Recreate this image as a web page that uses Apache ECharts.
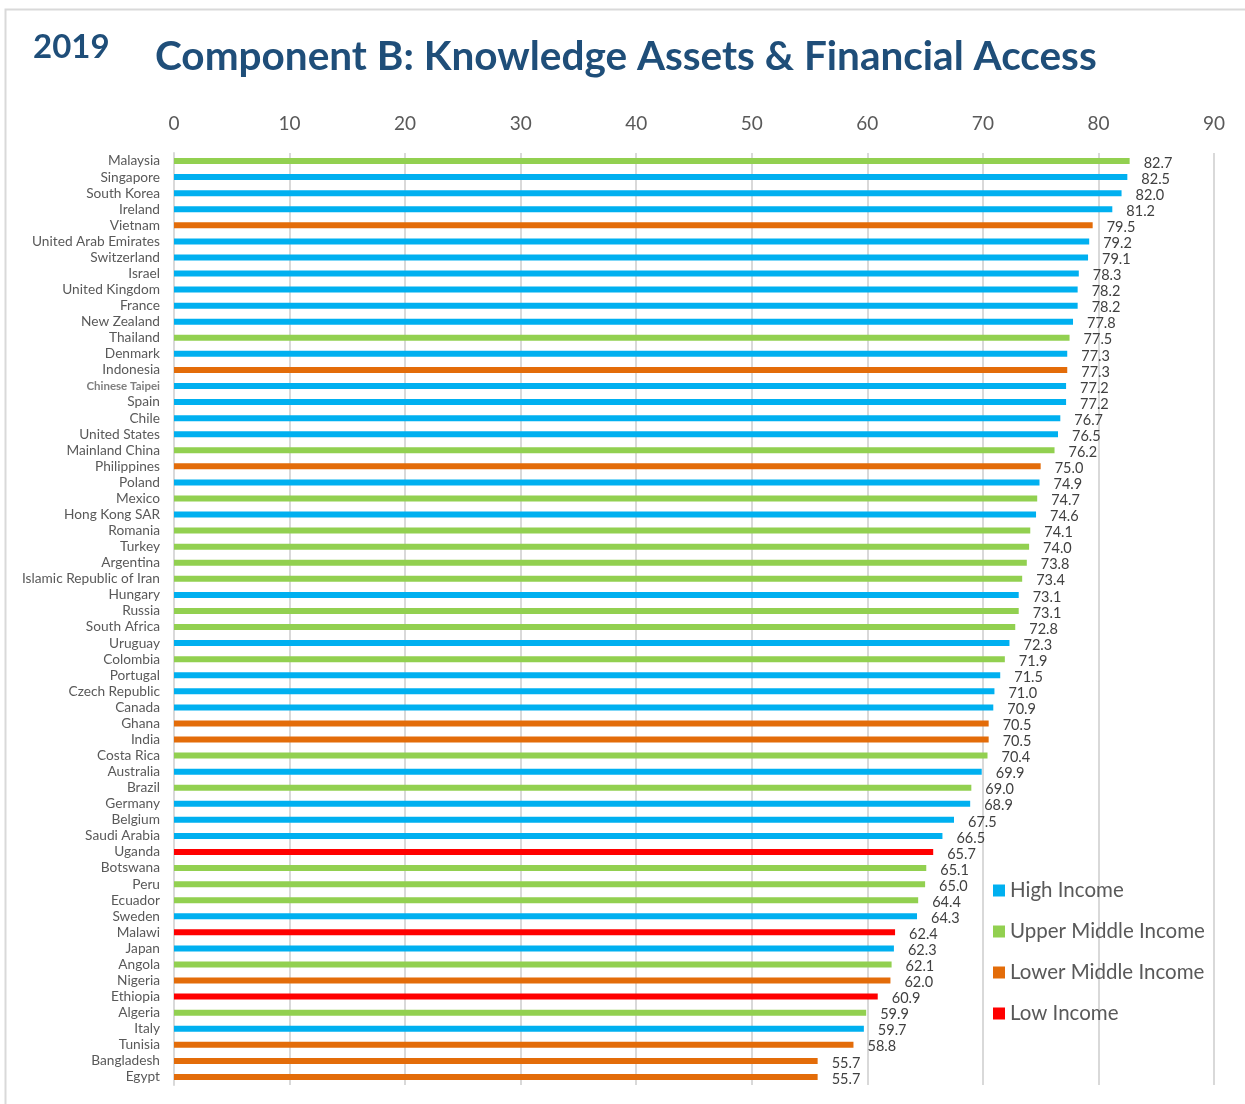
<!DOCTYPE html>
<html>
<head>
<meta charset="utf-8">
<title>Component B: Knowledge Assets & Financial Access</title>
<script src="https://cdn.jsdelivr.net/npm/echarts@6/dist/echarts.min.js"></script>
<style>
  html, body { margin: 0; padding: 0; background: #fff; }
  #chart { width: 1245px; height: 1104px; }
</style>
</head>
<body>
<div id="chart"></div>
<script>
// countries, top to bottom
const countries = [
  'Malaysia', 'Singapore', 'South Korea', 'Ireland', 'Vietnam', 'United Arab Emirates',
  'Switzerland', 'Israel', 'United Kingdom', 'France', 'New Zealand', 'Thailand',
  'Denmark', 'Indonesia', 'Chinese Taipei', 'Spain', 'Chile', 'United States',
  'Mainland China', 'Philippines', 'Poland', 'Mexico', 'Hong Kong SAR', 'Romania',
  'Turkey', 'Argentina', 'Islamic Republic of Iran', 'Hungary', 'Russia', 'South Africa',
  'Uruguay', 'Colombia', 'Portugal', 'Czech Republic', 'Canada', 'Ghana',
  'India', 'Costa Rica', 'Australia', 'Brazil', 'Germany', 'Belgium',
  'Saudi Arabia', 'Uganda', 'Botswana', 'Peru', 'Ecuador', 'Sweden',
  'Malawi', 'Japan', 'Angola', 'Nigeria', 'Ethiopia', 'Algeria',
  'Italy', 'Tunisia', 'Bangladesh', 'Egypt'
]

const scores = [
  82.7, 82.5, 82.0, 81.2, 79.5, 79.2,
  79.1, 78.3, 78.2, 78.2, 77.8, 77.5,
  77.3, 77.3, 77.2, 77.2, 76.7, 76.5,
  76.2, 75.0, 74.9, 74.7, 74.6, 74.1,
  74.0, 73.8, 73.4, 73.1, 73.1, 72.8,
  72.3, 71.9, 71.5, 71.0, 70.9, 70.5,
  70.5, 70.4, 69.9, 69.0, 68.9, 67.5,
  66.5, 65.7, 65.1, 65.0, 64.4, 64.3,
  62.4, 62.3, 62.1, 62.0, 60.9, 59.9,
  59.7, 58.8, 55.7, 55.7
]

// H = high, U = upper middle, LM = lower middle, L = low
const incomeGroup = [
  'U', 'H', 'H', 'H', 'LM', 'H',
  'H', 'H', 'H', 'H', 'H', 'U',
  'H', 'LM', 'H', 'H', 'H', 'H',
  'U', 'LM', 'H', 'U', 'H', 'U',
  'U', 'U', 'U', 'H', 'U', 'U',
  'H', 'U', 'H', 'H', 'H', 'LM',
  'LM', 'U', 'H', 'U', 'H', 'H',
  'H', 'L', 'U', 'U', 'U', 'H',
  'L', 'H', 'U', 'LM', 'L', 'U',
  'H', 'LM', 'LM', 'LM'
]

const groups = [
  { key: 'H', name: 'High Income', color: '#00B0F0' },
  { key: 'U', name: 'Upper Middle Income', color: '#92D050' },
  { key: 'LM', name: 'Lower Middle Income', color: '#E36C09' },
  { key: 'L', name: 'Low Income', color: '#FF0000' }
]

const xTicks = { min: 0, max: 90, step: 10 }

const chart = echarts.init(document.getElementById('chart'))

const series = groups.map(g => ({
  name: g.name,
  type: 'bar',
  stack: 'all',
  barWidth: 6,
  data: scores.map((v, i) => (incomeGroup[i] === g.key ? v : '-')),
  itemStyle: { color: g.color },
  label: {
    show: true,
    position: 'right',
    distance: 14,
    offset: [0, 2],
    color: '#404040',
    fontSize: 14.5,
    fontFamily: 'Lato',
    formatter: p => p.value.toFixed(1)
  }
}))

chart.setOption({
  animation: false,
  textStyle: { fontFamily: 'Lato' },
  title: [
    {
      text: '2019',
      left: 28,
      top: 26,
      textStyle: { fontSize: 33, fontWeight: 'bold', color: '#1F4E79', fontFamily: 'Lato' }
    },
    {
      text: 'Component B: Knowledge Assets & Financial Access',
      left: 150,
      top: 31,
      textStyle: { fontSize: 40.5, fontWeight: 'bold', color: '#1F4E79', fontFamily: 'Lato' }
    }
  ],
  graphic: [
    {
      type: 'rect',
      shape: { x: 5.5, y: 9.5, width: 1260, height: 1120 },
      style: { fill: 'none', stroke: '#d9d9d9', lineWidth: 2 },
      silent: true
    }
  ],
  legend: {
    orient: 'vertical',
    left: 988,
    top: 875,
    icon: 'rect',
    itemWidth: 12,
    itemHeight: 12,
    itemGap: 20,
    textStyle: { fontSize: 20.5, color: '#595959', fontFamily: 'Lato' },
    data: groups.map(g => g.name)
  },
  grid: {
    left: 174,
    right: 31,
    top: 153,
    bottom: 19
  },
  xAxis: {
    type: 'value',
    position: 'top',
    min: xTicks.min,
    max: xTicks.max,
    interval: xTicks.step,
    axisLine: { show: false },
    axisTick: { show: false },
    axisLabel: { fontSize: 19, color: '#595959', margin: 20 },
    splitLine: { lineStyle: { color: '#d9d9d9', width: 2 } }
  },
  yAxis: {
    type: 'category',
    inverse: true,
    data: countries,
    axisLine: { show: true, lineStyle: { color: '#d9d9d9', width: 2 } },
    axisTick: { show: false },
    axisLabel: {
      interval: 0,
      margin: 14,
      fontSize: 13.7,
      color: '#595959',
      formatter: v => (v === 'Chinese Taipei' ? '{small|' + v + '}' : v),
      rich: {
        small: { fontSize: 11.5, fontWeight: 'bold', color: '#7f7f7f' }
      }
    }
  },
  series: series
})
</script>
</body>
</html>
